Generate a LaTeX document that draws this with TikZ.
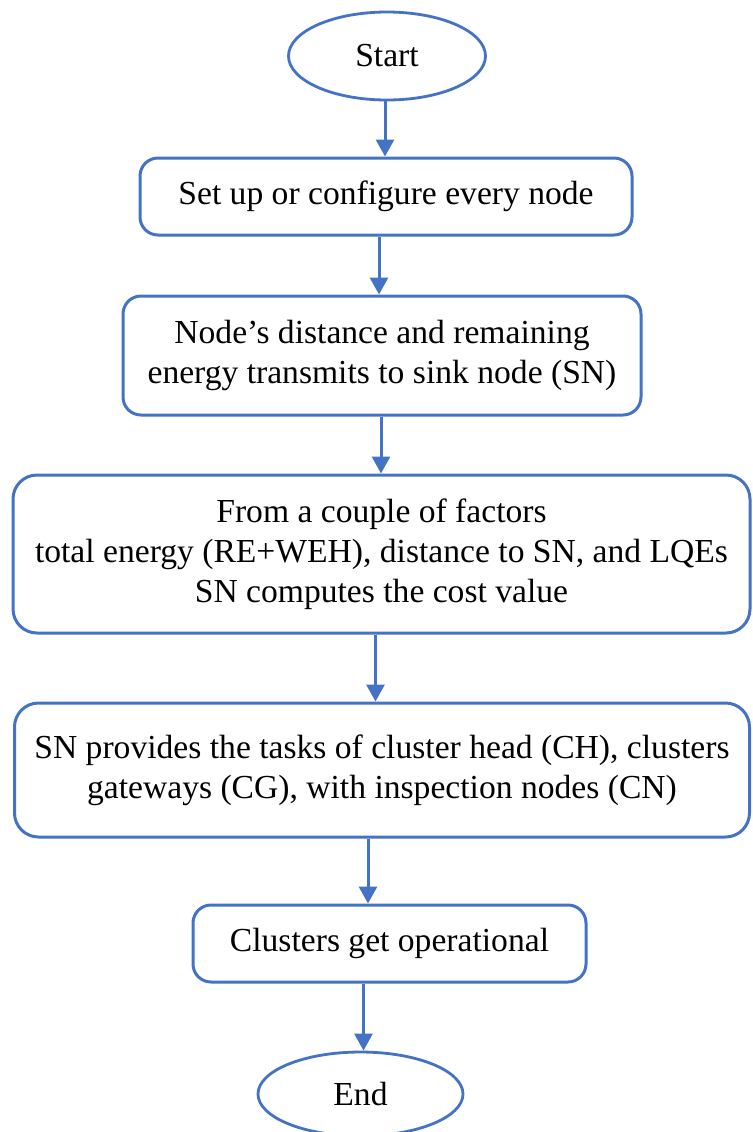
\documentclass[tikz,border=0pt]{standalone}
\usepackage{fontspec}
\setmainfont{Liberation Serif}
\usepackage{xcolor}
\usepackage{tikz}
\usetikzlibrary{arrows.meta,positioning,shapes.geometric}
\definecolor{flowblue}{RGB}{68,114,196}
\tikzset{stepbox/.style={rectangle, rounded corners=9pt, draw=flowblue, line width=1.5pt, fill=white, align=center, inner sep=0pt, font=\fontsize{16.8pt}{20pt}\selectfont}, termnode/.style={ellipse, draw=flowblue, line width=1.4pt, fill=white, inner sep=0pt, font=\fontsize{16.8pt}{20pt}\selectfont}, arrow/.style={-{Triangle[length=8.5pt,width=9pt]}, line width=1.5pt, draw=flowblue}}

\begin{document}
\begin{tikzpicture}[x=0.5pt,y=-0.5pt]
\useasboundingbox (0,0) rectangle (752,1132);
\node[termnode, minimum width=98.5pt, minimum height=44pt] (start) at (387,56) {Start};
\node[stepbox, minimum width=246pt, minimum height=38.5pt] (setup) at (386,196.5) {Set up or configure every node};
\node[stepbox, minimum width=259pt, minimum height=59.5pt] (dist) at (382,355.5) {Node's distance and remaining\\energy transmits to sink node (SN)};
\node[stepbox, minimum width=368.5pt, minimum height=79pt, rounded corners=12pt] (cost) at (381.5,554) {From a couple of factors\\total energy (RE+WEH), distance to SN, and LQEs\\SN computes the cost value};
\node[stepbox, minimum width=367.5pt, minimum height=67pt, rounded corners=12pt] (roles) at (382,770) {SN provides the tasks of cluster head (CH), clusters\\gateways (CG), with inspection nodes (CN)};
\node[stepbox, minimum width=196.5pt, minimum height=38.5pt] (oper) at (389.5,943.5) {Clusters get operational};
\node[termnode, minimum width=102.5pt, minimum height=42pt] (end) at (360.5,1094) {End};
\draw[arrow] ([xshift=-1pt]start.south) -- ([xshift=-1pt]start.south |- setup.north);
\draw[arrow] ([xshift=-3.5pt]setup.south) -- ([xshift=-3.5pt]setup.south |- dist.north);
\draw[arrow] ([xshift=-0.5pt]dist.south) -- ([xshift=-0.5pt]dist.south |- cost.north);
\draw[arrow] ([xshift=-3pt]cost.south) -- ([xshift=-3pt]cost.south |- roles.north);
\draw[arrow] ([xshift=-7pt]roles.south) -- ([xshift=-7pt]roles.south |- oper.north);
\draw[arrow] ([xshift=-13pt]oper.south) -- ([xshift=-13pt]oper.south |- end.north);
\end{tikzpicture}
\end{document}
